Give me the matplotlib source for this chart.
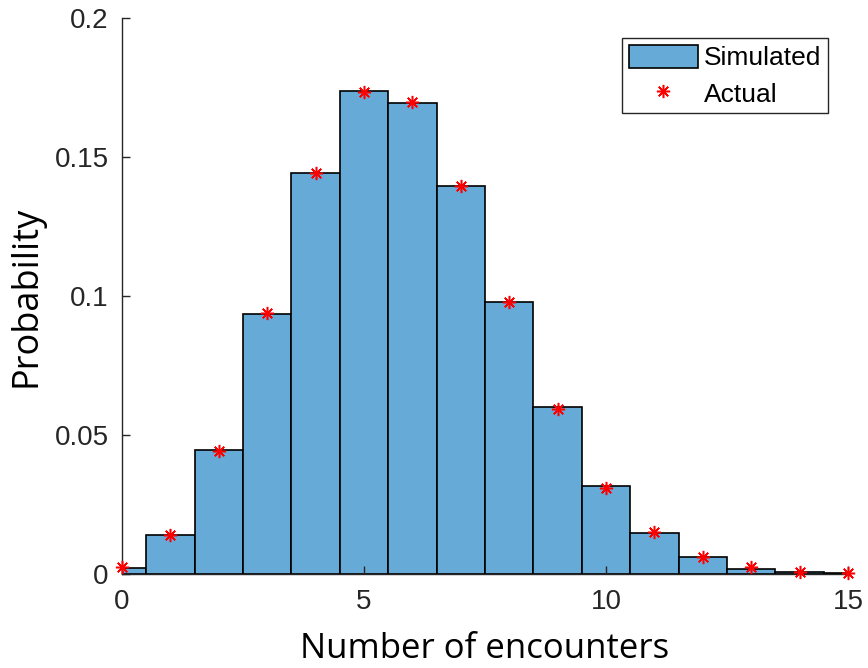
import numpy as np
import matplotlib
matplotlib.use("Agg")
import matplotlib.pyplot as plt

# encounter counts and probabilities
counts = np.arange(0, 16)
simulated = [0.0020, 0.0141, 0.0447, 0.0937, 0.1443, 0.1739, 0.1696, 0.1395,
             0.0978, 0.0599, 0.0315, 0.0146, 0.0060, 0.0018, 0.0007, 0.0002]
actual = [0.0025, 0.0139, 0.0444, 0.0940, 0.1442, 0.1735, 0.1697, 0.1394,
          0.0978, 0.0593, 0.0311, 0.0150, 0.0062, 0.0024, 0.0007, 0.0002]

xticks = [0, 5, 10, 15]
yticks = [0, 0.05, 0.1, 0.15, 0.2]
ytick_labels = ["0", "0.05", "0.1", "0.15", "0.2"]

axcol = "#262626"
fig = plt.figure(figsize=(8.68, 6.68), dpi=100)
ax = fig.add_axes([0.1406, 0.1407, 0.8364, 0.8323])

bars = ax.bar(counts, simulated, width=1.0, color="#66AAD7", edgecolor="black",
              linewidth=1.2, label="Simulated")
stars, = ax.plot(counts, actual, linestyle="none", marker=(8, 2, 0), color="red",
                 markersize=9.5, markeredgewidth=1.1, label="Actual",
                 clip_on=False, zorder=5)

ax.set_xlim(0, 15)
ax.set_ylim(0, 0.2)
ax.set_xticks(xticks)
ax.set_yticks(yticks)
ax.set_yticklabels(ytick_labels)
ax.tick_params(direction="in", length=6, width=1, colors=axcol, labelsize=20)
ax.tick_params(axis="x", pad=11)
ax.tick_params(axis="y", pad=9.5)
for lab in ax.get_xticklabels() + ax.get_yticklabels():
    lab.set_family("Liberation Sans")
ax.spines["top"].set_visible(False)
ax.spines["right"].set_visible(False)
for s in ["left", "bottom"]:
    ax.spines[s].set_color(axcol)
    ax.spines[s].set_linewidth(1)

ax.set_xlabel("Number of encounters", fontsize=25, family="Open Sans",
              color="black", labelpad=12)
ax.set_ylabel("Probability", fontsize=26, family="Open Sans",
              color="black", labelpad=7)

leg = ax.legend([bars, stars], ["Simulated", "Actual"], loc="upper right",
                bbox_to_anchor=(0.9725, 0.964), borderaxespad=0,
                prop={"family": "Liberation Sans", "size": 19},
                fancybox=False, edgecolor=axcol, framealpha=1,
                handlelength=2.6, handleheight=1.0, borderpad=0.25,
                labelspacing=0.4, handletextpad=0.25)
leg.get_frame().set_linewidth(1)

fig.savefig("out.png", dpi=100)
